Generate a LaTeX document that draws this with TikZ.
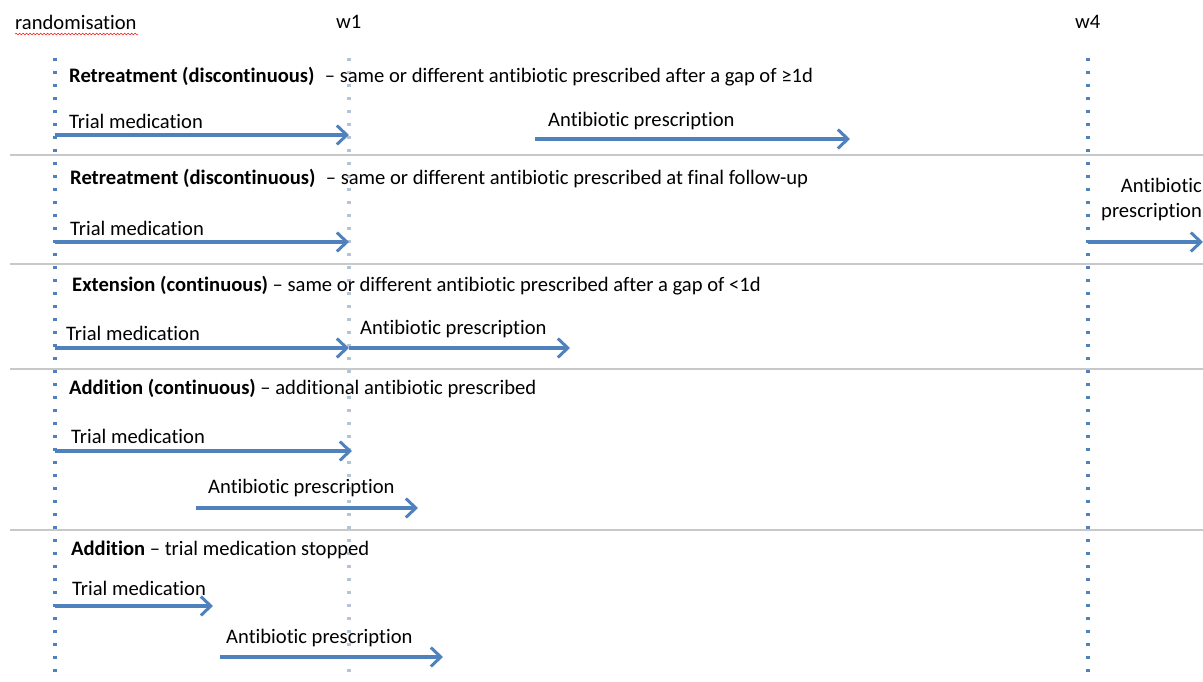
\documentclass[tikz,border=0pt]{standalone}
\usepackage{fontspec}
\setmainfont{Carlito}[Ligatures=NoCommon]
\usetikzlibrary{arrows.meta}
\usetikzlibrary{decorations.pathmorphing}

\definecolor{barblue}{HTML}{4F81BD}
\definecolor{paleblue}{HTML}{B4C3D6}
\definecolor{rulegray}{HTML}{C8C8C8}

\tikzset{
    period/.style={barblue, line width=3.2pt, -{Straight Barb[length=10pt, width=19pt, line width=3pt]}},
    timeline/.style={barblue, line width=3.2pt, dash pattern=on 3.2pt off 9.8pt},
    label/.style={anchor=west, inner sep=0pt, font=\fontsize{20.6}{25}\selectfont}
}

\begin{document}
\begin{tikzpicture}[x=1pt, y=-1pt]

    \useasboundingbox (0,0) rectangle (1203,682);
    \clip (0,0) rectangle (1203,682);

    % time points
    \node[label] (rand) at (15,22) {randomisation};
    \node[label] (w1) at (336,22) {w1};
    \node[label] (w4) at (1075,22) {w4};
    \draw[red, decorate, decoration={snake, amplitude=0.9pt, segment length=3.5pt}] (15,34) -- (138,34);

    % dotted time lines
    \coordinate (T0) at (55,58);
    \coordinate (B0) at (55,682);
    \coordinate (T1) at (349,58);
    \coordinate (B1) at (349,682);
    \coordinate (T4) at (1088,58);
    \coordinate (B4) at (1088,682);
    \draw[timeline] (T0) -- (B0);
    \draw[timeline, paleblue] (T1) -- (B1);
    \draw[timeline] (T4) -- (B4);

    % row separators
    \foreach \y in {155,264,369,530}
        \draw[rulegray, line width=1.2pt] (10,\y) -- (1203,\y);

    % row 1
    \node[label] (head1) at (69,77) {\textbf{Retreatment (discontinuous)} \;– same or different antibiotic prescribed after a gap of ≥1d};
    \node[label] (trial1) at (69,121) {Trial medication};
    \node[label] (abx1) at (548,121) {Antibiotic prescription};
    \coordinate (t1a) at (55,135);
    \coordinate (t1b) at (349,135);
    \coordinate (a1a) at (535,139);
    \coordinate (a1b) at (850,139);
    \draw[period] (t1a) -- (t1b);
    \draw[period] (a1a) -- (a1b);

    % row 2
    \node[label] (head2) at (70,179) {\textbf{Retreatment (discontinuous)} \;– same or different antibiotic prescribed at final follow-up};
    \node[label] (trial2) at (70,228) {Trial medication};
    \node[label, align=right] (abx2) at (1101,200) {Antibiotic\\prescription};
    \coordinate (t2a) at (55,242);
    \coordinate (t2b) at (349,242);
    \coordinate (a2a) at (1088,242);
    \coordinate (a2b) at (1203,242);
    \draw[period] (t2a) -- (t2b);
    \draw[period] (a2a) -- (a2b);

    % row 3
    \node[label] (head3) at (72,286) {\textbf{Extension (continuous)} – same or different antibiotic prescribed after a gap of <1d};
    \node[label] (trial3) at (66,333) {Trial medication};
    \node[label] (abx3) at (360,329) {Antibiotic prescription};
    \coordinate (t3a) at (55,348);
    \coordinate (t3b) at (349,348);
    \coordinate (a3b) at (570,348);
    \draw[period] (t3a) -- (t3b);
    \draw[period] (t3b) -- (a3b);

    % row 4
    \node[label] (head4) at (69,389) {\textbf{Addition (continuous)} – additional antibiotic prescribed};
    \node[label] (trial4) at (71,436) {Trial medication};
    \node[label] (abx4) at (208,488) {Antibiotic prescription};
    \coordinate (t4a) at (55,451);
    \coordinate (t4b) at (352,451);
    \coordinate (a4a) at (196,508);
    \coordinate (a4b) at (418,508);
    \draw[period] (t4a) -- (t4b);
    \draw[period] (a4a) -- (a4b);

    % row 5
    \node[label] (head5) at (71,550) {\textbf{Addition} – trial medication stopped};
    \node[label] (trial5) at (72,588) {Trial medication};
    \node[label] (abx5) at (226,638) {Antibiotic prescription};
    \coordinate (t5a) at (55,606);
    \coordinate (t5b) at (213,606);
    \coordinate (a5a) at (220,657);
    \coordinate (a5b) at (443,657);
    \draw[period] (t5a) -- (t5b);
    \draw[period] (a5a) -- (a5b);

\end{tikzpicture}
\end{document}
